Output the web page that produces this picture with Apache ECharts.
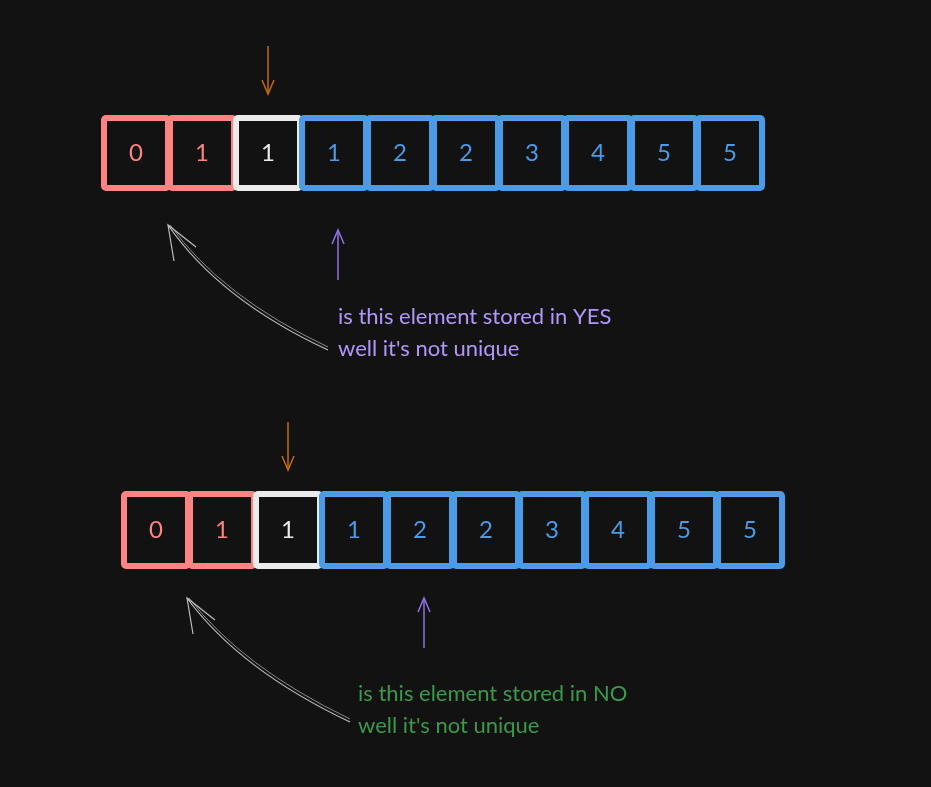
<!DOCTYPE html>
<html><head><meta charset="utf-8">
<script src="https://cdn.jsdelivr.net/npm/echarts@6/dist/echarts.min.js"></script>
<style>html,body{margin:0;background:#121212}#c{width:931px;height:787px}</style>
</head><body><div id="c"></div>
<script>
// cell values and the colour group of each cell (r = red, w = white, b = blue)
const rowTopValues = [0, 1, 1, 1, 2, 2, 3, 4, 5, 5]
const rowBottomValues = [0, 1, 1, 1, 2, 2, 3, 4, 5, 5]
const cellGroups = ['r', 'r', 'w', 'b', 'b', 'b', 'b', 'b', 'b', 'b']
const topPointer = 2      // orange arrow above this cell
const topQuery = 3        // purple arrow below this cell (row 1)
const bottomQuery = 4     // purple arrow below this cell (row 2)

const COLORS = { r: '#ff8383', w: '#ebebeb', b: '#4a9be8' }
const FONT = 'Lato'

const chart = echarts.init(document.getElementById('c'))

const cellSeries = (values, idx) => ({
  type: 'custom',
  xAxisIndex: idx,
  yAxisIndex: idx,
  data: values.map((v, i) => [i, v, cellGroups[i]]),
  renderItem: (params, api) => {
    const c = api.coord([api.value(0), 0.5])
    const s = api.size([1, 1])
    const col = COLORS[api.value(2)]
    const w = s[0], h = s[1]
    return {
      type: 'group',
      children: [
        { type: 'rect', shape: { x: c[0] - w / 2 + 1, y: c[1] - h / 2, width: w - 2, height: h, r: 2 },
          style: { fill: 'transparent', stroke: col, lineWidth: 6 } },
        { type: 'text', x: c[0], y: c[1],
          style: { text: String(api.value(1)), fill: col, font: '24px ' + FONT, align: 'center', verticalAlign: 'middle' } }
      ]
    }
  }
})

const arrowSeries = (idx, cell, dir, color, dy) => ({
  type: 'custom',
  xAxisIndex: idx,
  yAxisIndex: idx,
  data: [[cell]],
  renderItem: (params, api) => {
    const c = api.coord([api.value(0), dir > 0 ? 1 : 0])
    const x = c[0] + (dir > 0 ? 0 : 4)
    const y0 = dir > 0 ? c[1] - 72 : c[1] + 42 + dy
    const y1 = dir > 0 ? c[1] - 24 : c[1] + 92 + dy
    const tip = dir > 0 ? y1 : y0
    const back = dir > 0 ? -14 : 14
    return {
      type: 'group',
      children: [
        { type: 'line', shape: { x1: x, y1: y0, x2: x, y2: y1 }, style: { stroke: color, lineWidth: 1.5 } },
        { type: 'polyline', shape: { points: [[x - 6, tip + back], [x, tip], [x + 6, tip + back]] },
          style: { stroke: color, lineWidth: 1.5, fill: null } }
      ]
    }
  }
})

const curved = (sx, sy, cx, cy, ex, ey) => [
  { type: 'bezierCurve', shape: { x1: sx, y1: sy, x2: ex, y2: ey, cpx1: cx, cpy1: cy },
    style: { stroke: '#bdbdbd', lineWidth: 1.2, fill: null } },
  { type: 'bezierCurve', shape: { x1: sx, y1: sy - 3, x2: ex + 2, y2: ey, cpx1: cx + 2, cpy1: cy - 3 },
    style: { stroke: '#8a8a8a', lineWidth: 1, fill: null } },
  { type: 'polyline', shape: { points: [[ex + 28, ey + 22], [ex, ey], [ex + 6, ey + 36]] },
    style: { stroke: '#bdbdbd', lineWidth: 1.2, fill: null } }
]

const label = (x, y, text, color) => ({
  type: 'text', x, y, style: { text, fill: color, font: '22px ' + FONT }
})

chart.setOption({
  backgroundColor: '#121212',
  animation: false,
  grid: [
    { left: 103, width: 660, top: 118, height: 70 },
    { left: 123, width: 660, top: 494, height: 72 }
  ],
  xAxis: [0, 1].map(i => ({ type: 'category', gridIndex: i, data: rowTopValues.map((_, k) => k), show: false })),
  yAxis: [0, 1].map(i => ({ type: 'value', gridIndex: i, min: 0, max: 1, show: false })),
  series: [
    cellSeries(rowTopValues, 0),
    cellSeries(rowBottomValues, 1),
    arrowSeries(0, topPointer, 1, '#c46a0b', 0),
    arrowSeries(1, topPointer, 1, '#c46a0b', 0),
    arrowSeries(0, topQuery, -1, '#8f73e0', 0),
    arrowSeries(1, bottomQuery, -1, '#8f73e0', -10)
  ],
  graphic: [
    ...curved(328, 350, 220, 300, 168, 225),
    ...curved(350, 722, 240, 670, 187, 598),
    label(338, 306, 'is this element stored in YES', '#b197fc'),
    label(338, 338, "well it's not unique", '#b197fc'),
    label(358, 683, 'is this element stored in NO', '#3a9a48'),
    label(358, 715, "well it's not unique", '#3a9a48')
  ]
})
</script></body></html>
